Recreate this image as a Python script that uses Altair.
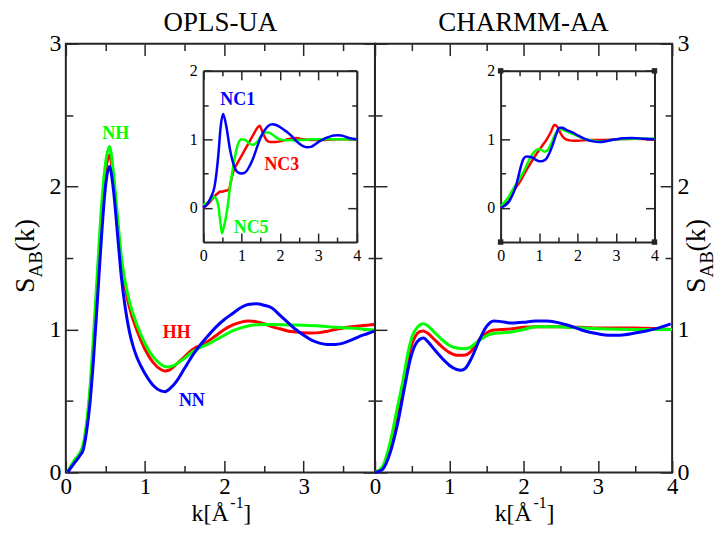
import altair as alt
import pandas as pd

FONT = "Liberation Serif, Times New Roman, Times, serif"
INK = "#262626"

# ---------------- OPLS-UA main panel ----------------
OPLS_HH_K = [0.02, 0.10, 0.18, 0.22, 0.26, 0.30, 0.35, 0.40, 0.45, 0.50, 0.55, 0.60, 0.65, 0.70, 0.75, 0.80, 0.90, 1.00, 1.10, 1.20, 1.25, 1.30, 1.40, 1.50, 1.60, 1.66, 1.72, 1.80, 1.90, 2.00, 2.10, 2.20, 2.30, 2.40, 2.50, 2.60, 2.70, 2.80, 2.90, 3.00, 3.10, 3.20, 3.30, 3.40, 3.50, 3.60, 3.70, 3.80, 3.90]
OPLS_HH_S = [0.00, 0.07, 0.13, 0.18, 0.31, 0.52, 0.90, 1.35, 1.80, 2.10, 2.22, 2.05, 1.75, 1.47, 1.29, 1.16, 0.99, 0.86, 0.77, 0.72, 0.71, 0.715, 0.76, 0.81, 0.86, 0.88, 0.89, 0.92, 0.96, 1.00, 1.03, 1.05, 1.06, 1.055, 1.04, 1.02, 1.005, 0.99, 0.983, 0.977, 0.975, 0.978, 0.988, 1.00, 1.01, 1.02, 1.025, 1.03, 1.035]

OPLS_NH_K = [0.02, 0.10, 0.18, 0.22, 0.26, 0.30, 0.35, 0.40, 0.45, 0.50, 0.55, 0.60, 0.65, 0.70, 0.75, 0.80, 0.90, 1.00, 1.10, 1.20, 1.28, 1.35, 1.40, 1.50, 1.60, 1.70, 1.80, 1.90, 2.00, 2.10, 2.20, 2.30, 2.40, 2.50, 2.60, 2.80, 3.00, 3.20, 3.40, 3.60, 3.80, 3.90]
OPLS_NH_S = [0.00, 0.08, 0.14, 0.20, 0.34, 0.56, 0.96, 1.42, 1.86, 2.16, 2.28, 2.10, 1.80, 1.51, 1.33, 1.20, 1.03, 0.90, 0.81, 0.755, 0.737, 0.745, 0.76, 0.80, 0.845, 0.875, 0.90, 0.93, 0.96, 0.99, 1.01, 1.025, 1.033, 1.035, 1.035, 1.032, 1.03, 1.025, 1.015, 1.01, 1.00, 0.995]

OPLS_NN_K = [0.02, 0.10, 0.18, 0.22, 0.26, 0.30, 0.35, 0.40, 0.45, 0.50, 0.55, 0.60, 0.65, 0.70, 0.75, 0.80, 0.85, 0.90, 1.00, 1.10, 1.20, 1.25, 1.30, 1.40, 1.50, 1.60, 1.70, 1.80, 1.90, 2.00, 2.10, 2.20, 2.30, 2.40, 2.50, 2.60, 2.70, 2.80, 2.90, 3.00, 3.10, 3.20, 3.30, 3.40, 3.50, 3.60, 3.70, 3.80, 3.90]
OPLS_NN_S = [0.00, 0.06, 0.12, 0.16, 0.28, 0.46, 0.80, 1.22, 1.65, 2.00, 2.14, 1.98, 1.68, 1.37, 1.15, 0.99, 0.88, 0.80, 0.69, 0.61, 0.57, 0.565, 0.58, 0.64, 0.73, 0.82, 0.895, 0.96, 1.02, 1.07, 1.11, 1.15, 1.175, 1.18, 1.17, 1.15, 1.10, 1.05, 1.00, 0.96, 0.925, 0.905, 0.895, 0.895, 0.905, 0.925, 0.95, 0.97, 0.99]

# ---------------- OPLS-UA inset ----------------
OPLS_NC3_K = [0.0, 0.1, 0.2, 0.3, 0.4, 0.45, 0.5, 0.57, 0.66, 0.75, 0.8, 0.9, 1.0, 1.1, 1.2, 1.3, 1.4, 1.47, 1.55, 1.65, 1.75, 1.9, 2.0, 2.2, 2.4, 2.6, 2.8, 3.0, 3.5, 4.0]
OPLS_NC3_S = [0.0, 0.04, 0.10, 0.17, 0.22, 0.24, 0.235, 0.25, 0.26, 0.45, 0.55, 0.66, 0.76, 0.86, 0.96, 1.06, 1.16, 1.20, 1.10, 0.99, 0.96, 0.96, 0.97, 1.00, 1.02, 1.00, 0.99, 0.99, 1.00, 1.00]

OPLS_NC5_K = [0.0, 0.1, 0.2, 0.28, 0.35, 0.4, 0.45, 0.49, 0.53, 0.62, 0.7, 0.75, 0.88, 1.0, 1.1, 1.2, 1.3, 1.4, 1.5, 1.6, 1.7, 1.8, 1.9, 2.0, 2.2, 2.5, 3.0, 3.5, 4.0]
OPLS_NC5_S = [0.05, 0.07, 0.12, 0.16, 0.12, 0.02, -0.22, -0.37, -0.30, -0.05, 0.30, 0.49, 0.88, 1.00, 0.99, 0.94, 0.92, 0.96, 1.04, 1.10, 1.10, 1.07, 1.03, 1.00, 0.985, 0.99, 1.00, 1.00, 1.00]

OPLS_NC1_K = [0.0, 0.1, 0.2, 0.3, 0.4, 0.45, 0.52, 0.6, 0.7, 0.8, 0.9, 1.0, 1.1, 1.2, 1.3, 1.4, 1.5, 1.6, 1.7, 1.8, 1.9, 2.0, 2.1, 2.2, 2.3, 2.4, 2.5, 2.6, 2.7, 2.8, 2.9, 3.0, 3.1, 3.2, 3.3, 3.4, 3.5, 3.6, 3.7, 3.8, 3.9, 4.0]
OPLS_NC1_S = [0.0, 0.05, 0.15, 0.32, 0.80, 1.15, 1.37, 1.20, 0.85, 0.62, 0.52, 0.50, 0.52, 0.60, 0.72, 0.88, 1.03, 1.13, 1.20, 1.22, 1.21, 1.18, 1.14, 1.10, 1.05, 0.99, 0.94, 0.90, 0.885, 0.89, 0.92, 0.96, 0.99, 1.02, 1.04, 1.055, 1.06, 1.055, 1.04, 1.02, 1.01, 1.00]

# ---------------- CHARMM-AA main panel ----------------
CHARMM_HH_K = [0.0, 0.1, 0.2, 0.3, 0.4, 0.47, 0.54, 0.6, 0.65, 0.72, 0.8, 0.9, 1.0, 1.1, 1.2, 1.28, 1.35, 1.42, 1.5, 1.58, 1.7, 1.85, 2.0, 2.2, 2.5, 3.0, 3.5, 3.8, 4.0]
CHARMM_HH_S = [0.0, 0.03, 0.16, 0.38, 0.66, 0.85, 0.95, 0.985, 0.99, 0.97, 0.93, 0.88, 0.84, 0.82, 0.82, 0.84, 0.89, 0.94, 0.975, 0.995, 1.00, 1.005, 1.015, 1.02, 1.02, 1.01, 1.01, 1.005, 1.00]

CHARMM_NH_K = [0.0, 0.1, 0.2, 0.3, 0.38, 0.45, 0.51, 0.58, 0.64, 0.7, 0.8, 0.9, 1.0, 1.1, 1.2, 1.28, 1.36, 1.45, 1.54, 1.65, 1.8, 2.0, 2.16, 2.4, 2.6, 3.0, 3.5, 4.0]
CHARMM_NH_S = [0.0, 0.04, 0.20, 0.45, 0.65, 0.85, 0.965, 1.02, 1.04, 1.03, 0.98, 0.93, 0.89, 0.87, 0.865, 0.875, 0.905, 0.94, 0.965, 0.975, 0.98, 1.00, 1.02, 1.02, 1.015, 1.005, 1.00, 1.00]

CHARMM_NN_K = [0.0, 0.1, 0.2, 0.3, 0.4, 0.47, 0.54, 0.6, 0.65, 0.72, 0.8, 0.9, 1.0, 1.1, 1.16, 1.22, 1.3, 1.4, 1.5, 1.6, 1.7, 1.84, 2.0, 2.16, 2.3, 2.45, 2.6, 2.79, 3.0, 3.14, 3.3, 3.5, 3.65, 3.81, 3.98]
CHARMM_NN_S = [0.0, 0.02, 0.13, 0.33, 0.60, 0.78, 0.89, 0.93, 0.94, 0.91, 0.86, 0.80, 0.75, 0.72, 0.715, 0.73, 0.80, 0.92, 1.02, 1.06, 1.055, 1.045, 1.05, 1.06, 1.06, 1.05, 1.03, 0.995, 0.97, 0.96, 0.96, 0.975, 0.99, 1.01, 1.04]

# ---------------- CHARMM-AA inset ----------------
CHARMM_NC3_K = [0.0, 0.1, 0.2, 0.3, 0.4, 0.5, 0.6, 0.7, 0.8, 0.9, 1.0, 1.1, 1.2, 1.3, 1.4, 1.45, 1.53, 1.6, 1.7, 1.8, 1.87, 2.0, 2.3, 2.6, 3.0, 3.5, 4.0]
CHARMM_NC3_S = [0.0, 0.06, 0.13, 0.22, 0.30, 0.38, 0.48, 0.58, 0.67, 0.76, 0.84, 0.92, 1.00, 1.10, 1.21, 1.20, 1.12, 1.05, 1.00, 0.985, 0.98, 0.98, 0.99, 0.99, 1.00, 1.01, 1.00]

CHARMM_NC5_K = [0.0, 0.1, 0.2, 0.3, 0.4, 0.5, 0.6, 0.7, 0.78, 0.88, 0.97, 1.05, 1.14, 1.22, 1.31, 1.4, 1.5, 1.55, 1.65, 1.79, 2.0, 2.2, 2.4, 2.6, 2.8, 3.0, 3.5, 4.0]
CHARMM_NC5_S = [0.02, 0.08, 0.15, 0.25, 0.34, 0.43, 0.53, 0.65, 0.74, 0.82, 0.855, 0.85, 0.82, 0.84, 0.93, 1.05, 1.14, 1.15, 1.13, 1.10, 1.05, 1.00, 0.98, 0.97, 0.98, 1.00, 1.01, 1.01]

CHARMM_NC1_K = [0.0, 0.1, 0.23, 0.32, 0.41, 0.48, 0.54, 0.6, 0.67, 0.75, 0.84, 0.92, 1.01, 1.1, 1.18, 1.27, 1.36, 1.45, 1.53, 1.6, 1.7, 1.87, 2.0, 2.22, 2.4, 2.57, 2.8, 3.0, 3.2, 3.42, 3.7, 4.0]
CHARMM_NC1_S = [0.0, 0.03, 0.10, 0.20, 0.34, 0.50, 0.63, 0.72, 0.75, 0.745, 0.73, 0.70, 0.68, 0.685, 0.71, 0.80, 0.93, 1.08, 1.17, 1.17, 1.14, 1.10, 1.06, 1.00, 0.97, 0.96, 0.98, 1.00, 1.015, 1.02, 1.01, 1.00]

# ---------------- curve labels ----------------
MAIN_LABEL_NAMES = ["NH", "HH", "NN"]
MAIN_LABEL_K = [0.63, 1.40, 1.59]
MAIN_LABEL_S = [2.37, 0.976, 0.50]
INSET_LABEL_NAMES = ["NC1", "NC3", "NC5"]
INSET_LABEL_K = [0.90, 2.05, 1.25]
INSET_LABEL_S = [1.57, 0.62, -0.29]

CORNER_K = [0, 0, 4, 4]
CORNER_S = [-0.5, 2, -0.5, 2]

SERIES_ORDER = ["HH", "NH", "NN", "NC3", "NC5", "NC1"]
SERIES_COLORS = ["#ff0000", "#00ff00", "#0000ff", "#ff0000", "#00ff00", "#0000ff"]

PANEL_TITLES = ["OPLS-UA", "CHARMM-AA"]
X_MAJOR = [0, 1, 2, 3, 4]
X_MINOR = [0.5, 1.5, 2.5, 3.5]
Y_MAJOR = [0, 1, 2, 3]
Y_MINOR = [0.5, 1.5, 2.5]
IN_Y_MAJOR = [0, 1, 2]
IN_Y_MINOR = [0.5, 1.5]


def series_df(items):
    rows = []
    for name, ks, ss in items:
        for k, s in zip(ks, ss):
            rows.append({"k": k, "S": s, "series": name})
    return pd.DataFrame(rows)


H = 430
DUMMY = pd.DataFrame({"k": [0.0], "S": [0.0]})
COLOR = alt.Color("series:N", scale=alt.Scale(domain=SERIES_ORDER, range=SERIES_COLORS), legend=None)


def lin(domain, rng=None):
    if rng is None:
        return alt.Scale(domain=domain, nice=False, zero=False)
    return alt.Scale(domain=domain, range=rng, nice=False, zero=False)


def lab_axis(orient, values, size, pad, offset=0):
    return alt.Axis(orient=orient, values=values, format="d", title=None, ticks=False, tickSize=0,
                    domain=False, grid=False, labels=True, labelFont=FONT, labelFontSize=size,
                    labelColor="black", labelPadding=pad, labelFlush=False, labelOverlap=False,
                    offset=offset)


def tick_axis(orient, values, size, offset, domain=False):
    return alt.Axis(orient=orient, values=values, title=None, labels=False, ticks=True, tickSize=size,
                    tickColor=INK, tickWidth=1.5, domain=domain, domainColor=INK, domainWidth=2,
                    grid=False, offset=offset)


def ghost(xs, ys, xa, ya):
    return alt.Chart(DUMMY).mark_point(opacity=0).encode(
        x=alt.X("k:Q", scale=xs, axis=xa), y=alt.Y("S:Q", scale=ys, axis=ya))


def txt(s, x, y, size, angle=0, align="left"):
    return alt.Chart(DUMMY).mark_text(text=s, font=FONT, fontSize=size, angle=angle, align=align,
                                      baseline="alphabetic", color="black").encode(
        x=alt.value(x), y=alt.value(y))


def panel(W, xmax, main_df, inset_df, ix0, ix1, iy_top, iy_bot, y_side, title, corners):
    xd, yd = [0, xmax], [0, 3]
    ixd, iyd = [0, 4], [-0.5, 2]
    xmaj = [v for v in X_MAJOR if v <= xmax]
    L = []
    L.append(alt.Chart(main_df).mark_line(strokeWidth=3, interpolate="monotone").encode(
        x=alt.X("k:Q", scale=lin(xd), axis=lab_axis("bottom", xmaj, 23, 3)),
        y=alt.Y("S:Q", scale=lin(yd), axis=lab_axis(y_side, Y_MAJOR, 24, 5)),
        color=COLOR, detail="series:N"))
    L.append(ghost(lin(xd), lin(yd), tick_axis("top", xmaj, 12, -H), tick_axis("right", Y_MAJOR, 12, -W)))
    L.append(ghost(lin(xd), lin(yd), tick_axis("bottom", xmaj, 12, -H), tick_axis("left", Y_MAJOR, 12, -W)))
    L.append(ghost(lin(xd), lin(yd), tick_axis("top", X_MINOR, 7, -H), tick_axis("right", Y_MINOR, 7, -W)))
    L.append(ghost(lin(xd), lin(yd), tick_axis("bottom", X_MINOR, 7, -H), tick_axis("left", Y_MINOR, 7, -W)))

    def ixs():
        return lin(ixd, [ix0, ix1])

    def iys():
        return lin(iyd, [iy_bot, iy_top])

    L.append(alt.Chart(inset_df).mark_line(strokeWidth=2.5, interpolate="monotone").encode(
        x=alt.X("k:Q", scale=ixs(), axis=lab_axis("bottom", X_MAJOR, 16, 5, offset=iy_bot - H)),
        y=alt.Y("S:Q", scale=iys(), axis=lab_axis("left", IN_Y_MAJOR, 16, 6, offset=-ix0)),
        color=COLOR, detail="series:N"))
    L.append(ghost(ixs(), iys(), tick_axis("top", X_MAJOR, 9, -iy_bot, True), tick_axis("right", IN_Y_MAJOR, 9, ix0 - W, True)))
    L.append(ghost(ixs(), iys(), tick_axis("bottom", X_MAJOR, 9, iy_top - H, True), tick_axis("left", IN_Y_MAJOR, 9, -ix1, True)))
    L.append(ghost(ixs(), iys(), tick_axis("top", X_MINOR, 5, -iy_bot), tick_axis("right", IN_Y_MINOR, 5, ix0 - W)))
    L.append(ghost(ixs(), iys(), tick_axis("bottom", X_MINOR, 5, iy_top - H), tick_axis("left", IN_Y_MINOR, 5, -ix1)))

    if title == "OPLS-UA":
        mlab = pd.DataFrame({"k": MAIN_LABEL_K, "S": MAIN_LABEL_S, "series": MAIN_LABEL_NAMES})
        ilab = pd.DataFrame({"k": INSET_LABEL_K, "S": INSET_LABEL_S, "series": INSET_LABEL_NAMES})
        L.append(alt.Chart(mlab).mark_text(font=FONT, fontSize=18, fontWeight="bold").encode(
            x=alt.X("k:Q", scale=lin(xd), axis=None), y=alt.Y("S:Q", scale=lin(yd), axis=None),
            text="series:N", color=COLOR))
        L.append(alt.Chart(ilab).mark_text(font=FONT, fontSize=18, fontWeight="bold").encode(
            x=alt.X("k:Q", scale=ixs(), axis=None), y=alt.Y("S:Q", scale=iys(), axis=None),
            text="series:N", color=COLOR))
    if corners:
        cdf = pd.DataFrame({"k": CORNER_K, "S": CORNER_S})
        L.append(alt.Chart(cdf).mark_square(size=30, color=INK, opacity=1).encode(
            x=alt.X("k:Q", scale=ixs(), axis=None), y=alt.Y("S:Q", scale=iys(), axis=None)))

    # panel title
    L.append(txt(title, W / 2, -13, 27, align="center"))
    # x title k[Å^-1]
    x0 = W / 2 - 29
    L.append(txt("k[Å", x0, 478.5, 24))
    L.append(txt("-1", x0 + 39, 466, 16))
    L.append(txt("]", x0 + 52, 478.5, 24))
    # y title S_AB(k)
    bx = -31.7 if y_side == "left" else W + 33
    L.append(txt("S", bx, 250, 28, angle=270))
    L.append(txt("AB", bx + 8, 234.5, 19, angle=270))
    L.append(txt("(k)", bx, 208.5, 28, angle=270))

    return alt.layer(*L).resolve_scale(x="independent", y="independent").properties(width=W, height=H)


opls_main = series_df([("HH", OPLS_HH_K, OPLS_HH_S), ("NH", OPLS_NH_K, OPLS_NH_S), ("NN", OPLS_NN_K, OPLS_NN_S)])
opls_inset = series_df([("NC3", OPLS_NC3_K, OPLS_NC3_S), ("NC5", OPLS_NC5_K, OPLS_NC5_S), ("NC1", OPLS_NC1_K, OPLS_NC1_S)])
charmm_main = series_df([("HH", CHARMM_HH_K, CHARMM_HH_S), ("NH", CHARMM_NH_K, CHARMM_NH_S), ("NN", CHARMM_NN_K, CHARMM_NN_S)])
charmm_inset = series_df([("NC3", CHARMM_NC3_K, CHARMM_NC3_S), ("NC5", CHARMM_NC5_K, CHARMM_NC5_S), ("NC1", CHARMM_NC1_K, CHARMM_NC1_S)])

left = panel(310, 3.9, opls_main, opls_inset, 137.7, 291.7, 27.3, 199.0, "left", PANEL_TITLES[0], False)
right = panel(298, 4.0, charmm_main, charmm_inset, 126.0, 280.3, 27.3, 199.0, "right", PANEL_TITLES[1], True)

chart = alt.hconcat(left, right, spacing=0, bounds="flush").properties(
    padding={"left": 3, "top": -1, "right": 0, "bottom": -1}, background="white"
).configure_view(stroke=INK, strokeWidth=2)

chart.save("out.html", embed_options={"renderer": "svg", "actions": False})
